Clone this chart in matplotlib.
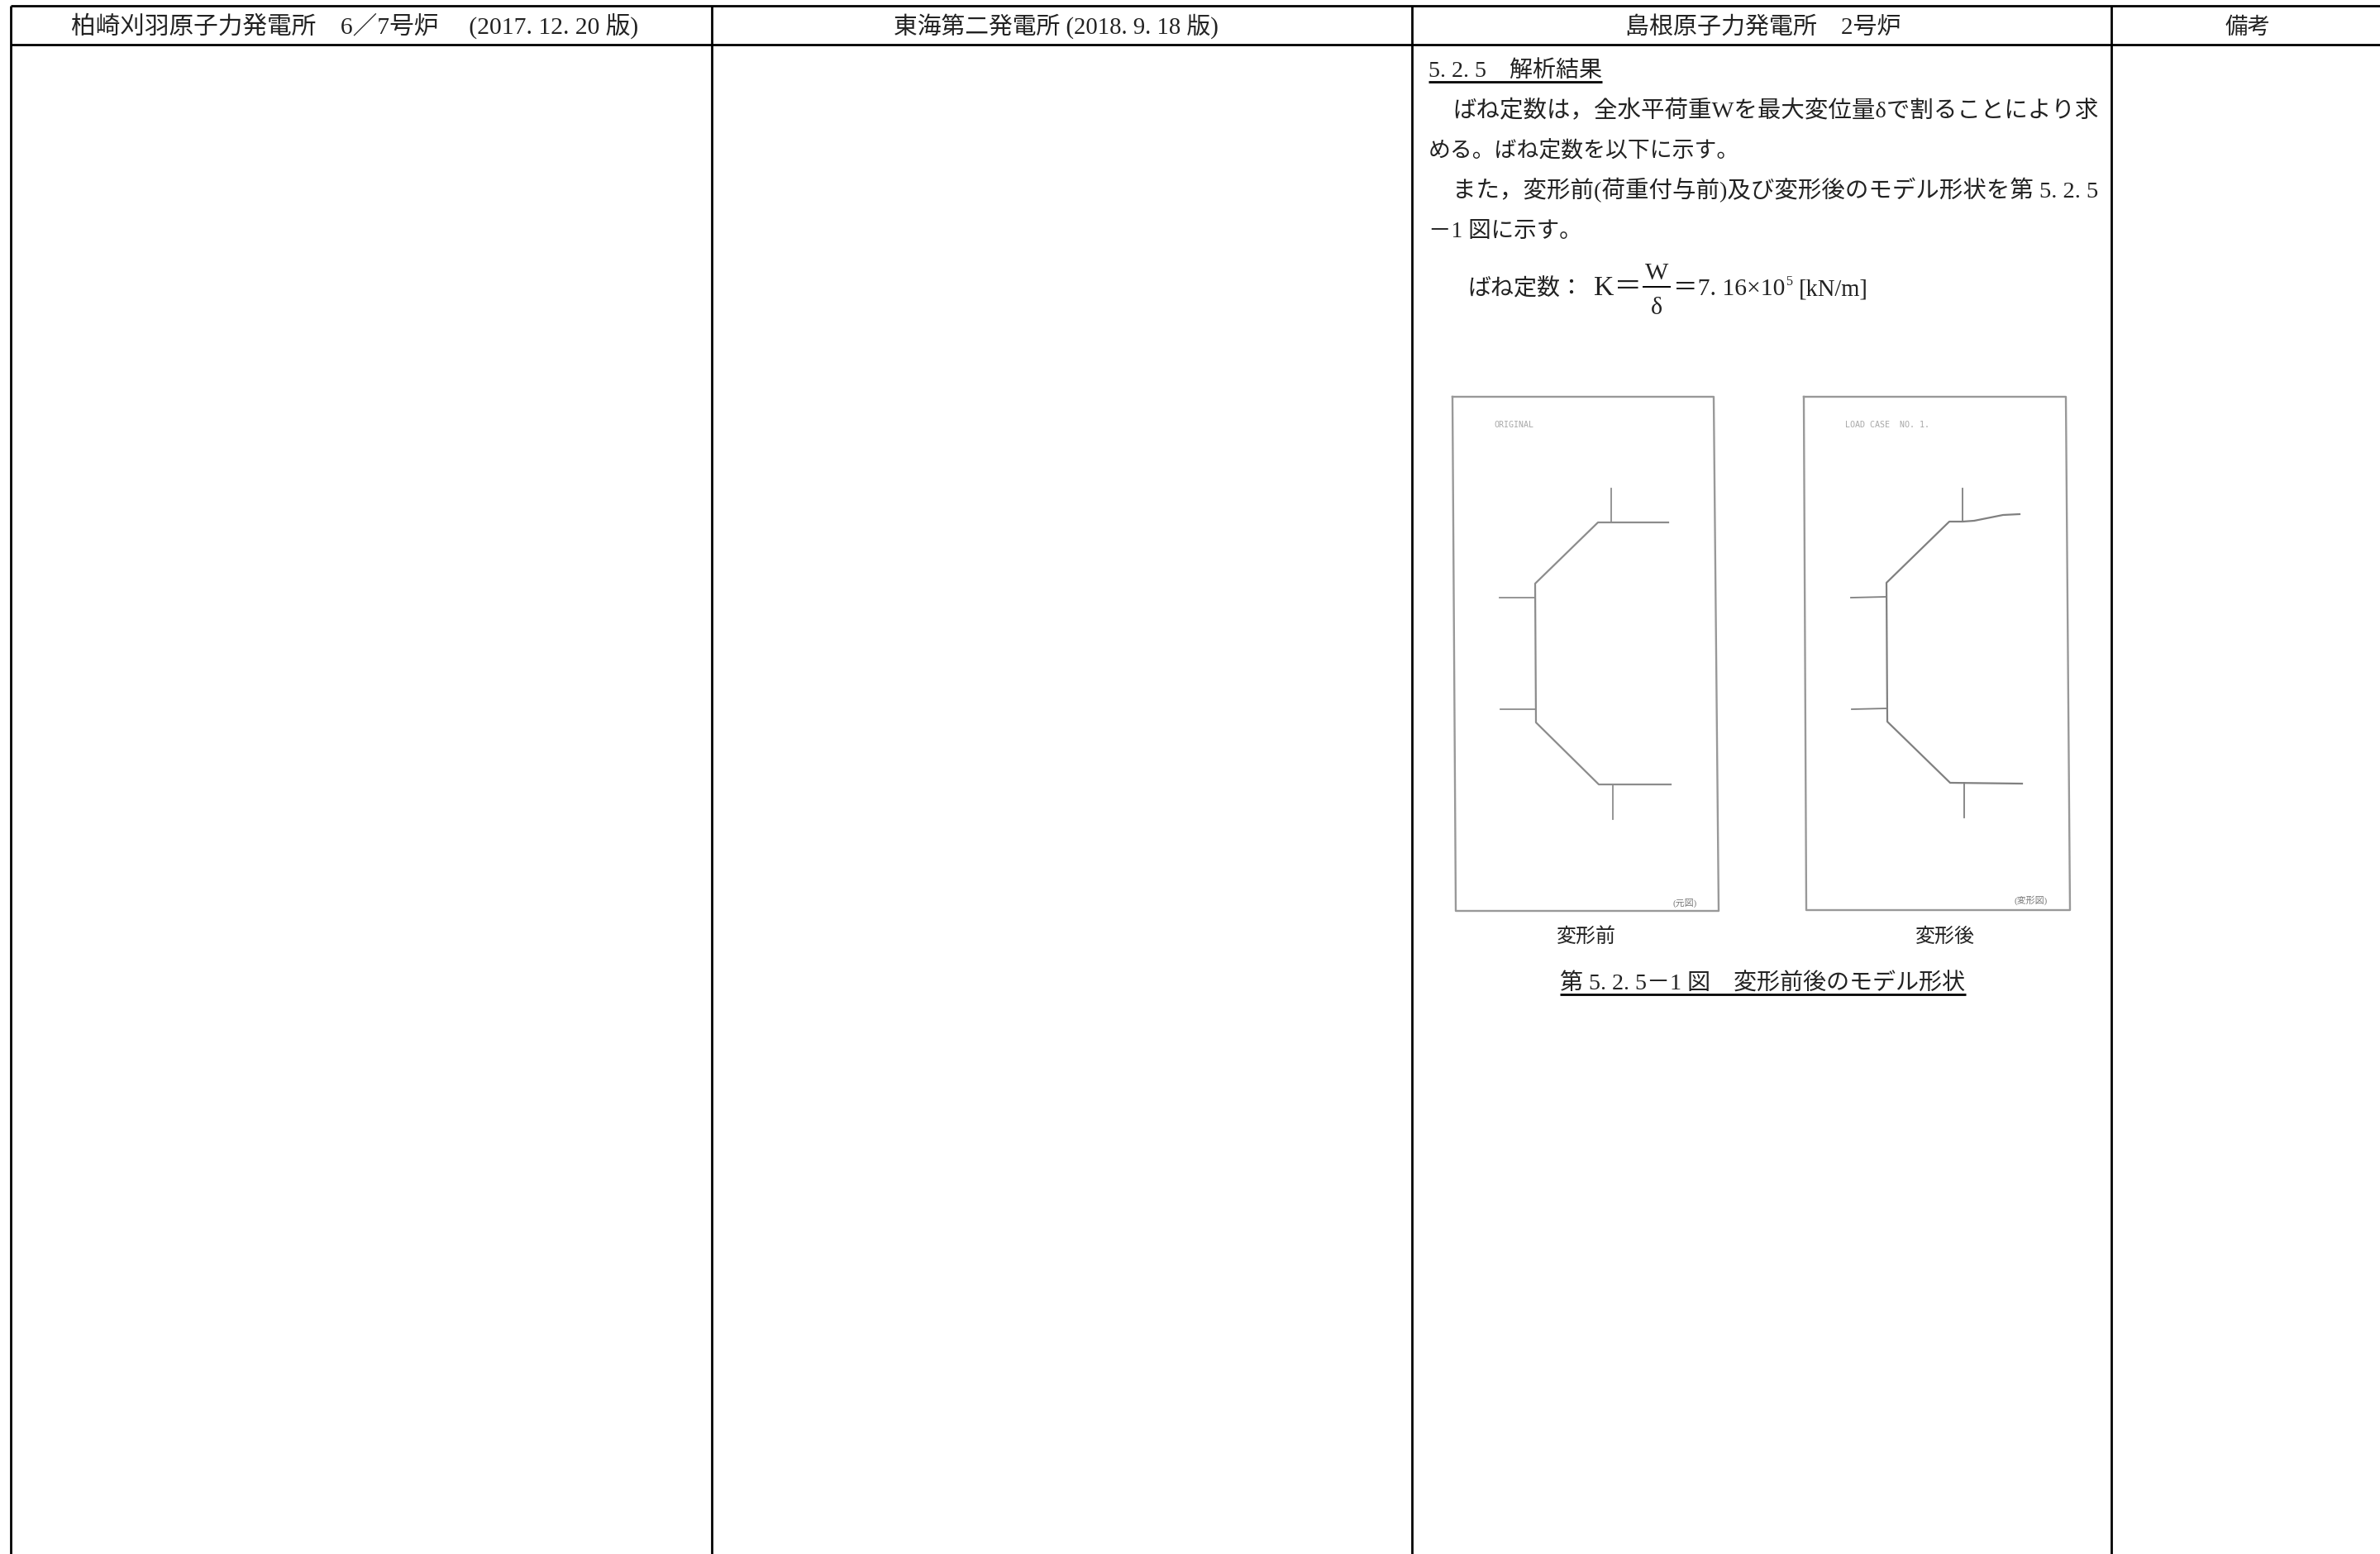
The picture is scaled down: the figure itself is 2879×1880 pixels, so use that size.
#!/usr/bin/env python3
# -*- coding: utf-8 -*-
import matplotlib
matplotlib.use('Agg')
import matplotlib.pyplot as plt

plt.rcParams['font.family'] = ['Liberation Serif', 'Noto Sans CJK JP', 'DejaVu Sans']

W, H = 2879, 1880
PX = 72 / 100  # px to pt at dpi 100
INK = '#222222'

# table
col_lines = [13, 861, 1708, 2554]
row_lines = [7, 54]
headers = ['柏崎刈羽原子力発電所　6／7号炉　 (2017. 12. 20 版)',
           '東海第二発電所 (2018. 9. 18 版)',
           '島根原子力発電所　2号炉',
           '備考']
header_x = [86, 1081, 1966, 2692]
header_width = [687, 393, 333, 55]

# body text: x, baseline y, string
body_x = [1728, 1757, 1728, 1757, 1728]
body_y = [93, 142, 190, 239, 287]
body_text = ['5. 2. 5　解析結果',
             'ばね定数は，全水平荷重Wを最大変位量δで割ることにより求',
             'める。ばね定数を以下に示す。',
             'また，変形前(荷重付与前)及び変形後のモデル形状を第 5. 2. 5',
             '－1 図に示す。']
body_width = [210, 780, 376, 780, 186]

# model shapes
before_frame_x = [1757, 2073, 2079, 1761, 1757]
before_frame_y = [480, 480, 1102, 1102, 480]
before_x = [2018, 1933, 1857, 1858, 1934, 2021]
before_y = [632, 632, 706, 874, 949, 949]
before_stubs = [((1949, 1949), (591, 632)), ((1951, 1951), (949, 991)),
                ((1814, 1857), (723, 723)), ((1815, 1858), (858, 858))]

after_frame_x = [2182, 2499, 2504, 2185, 2182]
after_frame_y = [480, 480, 1101, 1101, 480]
after_x = [2443, 2423, 2388, 2374, 2358, 2282, 2283, 2359, 2446]
after_y = [622, 623, 630, 631, 631, 705, 873, 947, 948]
after_stubs = [((2374, 2374), (591, 631)), ((2376, 2376), (947, 989)),
               ((2239, 2282), (723, 722)), ((2240, 2283), (858, 857))]

fig = plt.figure(figsize=(W / 100, H / 100), dpi=100)
ax = fig.add_axes([0, 0, 1, 1])
ax.set_xlim(0, W)
ax.set_ylim(H, 0)
ax.axis('off')

# grid of the table
for x in col_lines:
    ax.plot([x, x], [row_lines[0], H], color='black', lw=2.0, solid_capstyle='butt')
for y in row_lines:
    ax.plot([col_lines[0], W], [y, y], color='black', lw=2.0, solid_capstyle='butt')


def fit_text(x, y, s, width, size=27):
    # scale the string so it covers the same width as in the picture
    t = ax.text(x, y, s, ha='left', va='baseline', fontsize=size * PX, color=INK)
    r = fig.canvas.get_renderer()
    actual = t.get_window_extent(r).width
    t.set_fontsize(size * PX * width / actual)
    return t


for x, s, w in zip(header_x, headers, header_width):
    fit_text(x, 41, s, w)

for x, y, s, w in zip(body_x, body_y, body_text, body_width):
    fit_text(x, y, s, w)
ax.plot([1728, 1938], [99, 99], color='black', lw=2.0, solid_capstyle='butt')

# formula
fit_text(1775, 357, 'ばね定数：', 140)
fit_text(1928, 357, 'K＝', 58)
ax.text(2004, 338, 'W', ha='center', va='baseline', fontsize=30 * PX, color=INK)
ax.plot([1987, 2021], [347, 347], color='black', lw=1.4, solid_capstyle='butt')
ax.text(2004, 380, 'δ', ha='center', va='baseline', fontsize=30 * PX, color=INK)
fit_text(2024, 357, '＝7. 16×10', 135)
ax.text(2160, 345, '5', ha='left', va='baseline', fontsize=16 * PX, color=INK)
fit_text(2176, 357, '[kN/m]', 84)

# the two scanned model sketches
ax.plot(before_frame_x, before_frame_y, color='#999999', lw=1.7)
ax.plot(before_x, before_y, color='#8c8c8c', lw=1.6)
for sx, sy in before_stubs:
    ax.plot(sx, sy, color='#8c8c8c', lw=1.3)
ax.plot(after_frame_x, after_frame_y, color='#999999', lw=1.7)
ax.plot(after_x, after_y, color='#808080', lw=1.6)
for sx, sy in after_stubs:
    ax.plot(sx, sy, color='#808080', lw=1.3)

ax.text(1807, 514, 'ORIGINAL', ha='left', va='center', fontsize=10 * PX, color='#a8a8a8', family='DejaVu Sans Mono')
ax.text(2232, 514, 'LOAD CASE  NO. 1.', ha='left', va='center', fontsize=10 * PX, color='#a8a8a8', family='DejaVu Sans Mono')
ax.text(2038, 1092, '(元図)', ha='center', va='center', fontsize=11 * PX, color='#777777')
ax.text(2457, 1089, '(変形図)', ha='center', va='center', fontsize=11 * PX, color='#777777')

ax.text(1919, 1140, '変形前', ha='center', va='baseline', fontsize=24 * PX, color=INK)
ax.text(2353, 1140, '変形後', ha='center', va='baseline', fontsize=24 * PX, color=INK)

fit_text(1887, 1198, '第 5. 2. 5－1 図　変形前後のモデル形状', 491, size=29)
ax.plot([1887, 2378], [1203, 1203], color='black', lw=2.0, solid_capstyle='butt')

fig.savefig('out.png', dpi=100, facecolor='white')
